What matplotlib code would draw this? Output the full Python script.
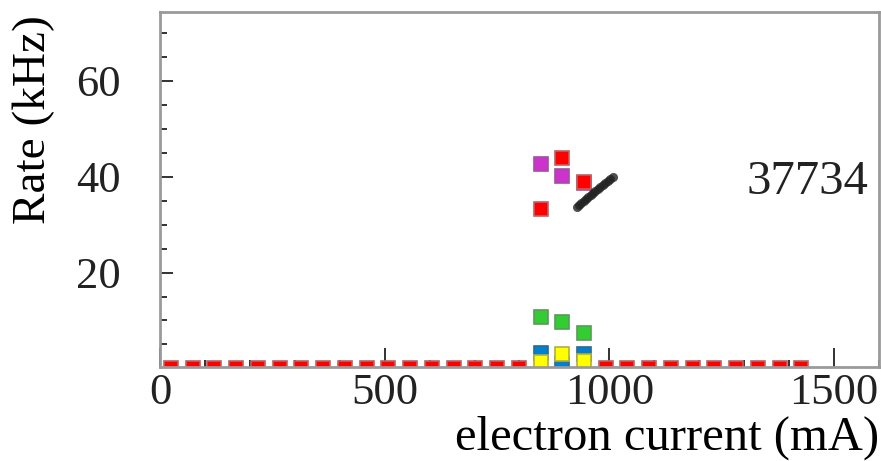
import numpy as np
import matplotlib
matplotlib.use("Agg")
import matplotlib.pyplot as plt
from matplotlib.ticker import MultipleLocator

plt.rcParams['font.family'] = ['Liberation Serif', 'DejaVu Serif']

# ---- data ----
n_bins = 31
bin_width = 1500 / n_bins
bin_centers = (np.arange(n_bins) + 0.5) * bin_width
shown = 30  # bins drawn (0..29)

# rates in kHz for the bins 17, 18, 19 ; all other bins are empty (0)
active_bins = [17, 18, 19]
red_vals = [33.3, 44.0, 39.0]
magenta_vals = [42.7, 40.2, 38.6]
green_vals = [10.8, 9.6, 7.3]
blue_vals = [3.3, 1.0, 3.1]
yellow_vals = [1.25, 3.1, 1.5]

# separate fine scan (black)
scan_x = [927, 932, 937, 943, 948, 953, 959, 964, 969, 975, 980, 985, 991, 996, 1001, 1007]
scan_y = [33.6, 34.2, 34.6, 35.0, 35.4, 35.8, 36.2, 36.6, 37.0, 37.4, 37.8, 38.2, 38.6, 39.1, 39.5, 40.0]

run_label = "37734"
xlabel = "electron current (mA)"
ylabel = "Rate (kHz)"


def full_series(vals):
    y = np.zeros(shown)
    for b, v in zip(active_bins, vals):
        y[b] = v
    return y


fig = plt.figure(figsize=(8.81, 4.61), dpi=100)
ax = fig.add_axes([0.1816, 0.204, 0.8161, 0.770])

ms = 9.6
xs = bin_centers[:shown]
ax.plot(bin_centers[active_bins], magenta_vals, 's', color='#cc33cc', mec='#a050a0', ms=ms, mew=1.2)
ax.plot(bin_centers[active_bins], green_vals, 's', color='#33cc33', mec='#5a9a5a', ms=ms, mew=1.2)
ax.plot(bin_centers[active_bins], blue_vals, 's', color='#0080d0', mec='#2a6a90', ms=ms, mew=1.2)
ax.plot(bin_centers[active_bins], yellow_vals, 's', color='#ffff00', mec='#b0b040', ms=ms, mew=1.2)
ax.plot(xs, full_series(red_vals), 's', color='#ff0000', mec='#c06060', ms=ms, mew=1.2)
ax.plot(scan_x, scan_y, 'o', color='#222222', ms=6.5, mew=0, alpha=0.8)

ax.set_xlim(0, 1600)
ax.set_ylim(0.3, 74.4)

ax.xaxis.set_major_locator(MultipleLocator(500))
ax.xaxis.set_minor_locator(MultipleLocator(100))
ax.yaxis.set_minor_locator(MultipleLocator(5))
ax.set_yticks([20, 40, 60])

ax.tick_params(axis='both', which='both', direction='in', colors='#222222', labelcolor='#222222')
ax.tick_params(axis='x', which='major', length=14, width=1.3, labelsize=32, pad=4)
ax.tick_params(axis='x', which='minor', length=5, width=1.3)
ax.tick_params(axis='y', which='major', length=9, width=1.3, labelsize=32, pad=28)
ax.tick_params(axis='y', which='minor', length=5, width=1.3)

for s in ax.spines.values():
    s.set_color('#9a9a9a')
    s.set_linewidth(2)

ax.set_xlabel(xlabel, fontsize=35, ha='right', x=1.0, labelpad=2)
ax.set_ylabel(ylabel, fontsize=34, ha='right')
ax.yaxis.set_label_coords(-0.146, 0.99)

ax.text(0.985, 0.52, run_label, transform=ax.transAxes, ha='right', va='center', fontsize=35, color='#222222')

fig.savefig("out.png", dpi=100)
